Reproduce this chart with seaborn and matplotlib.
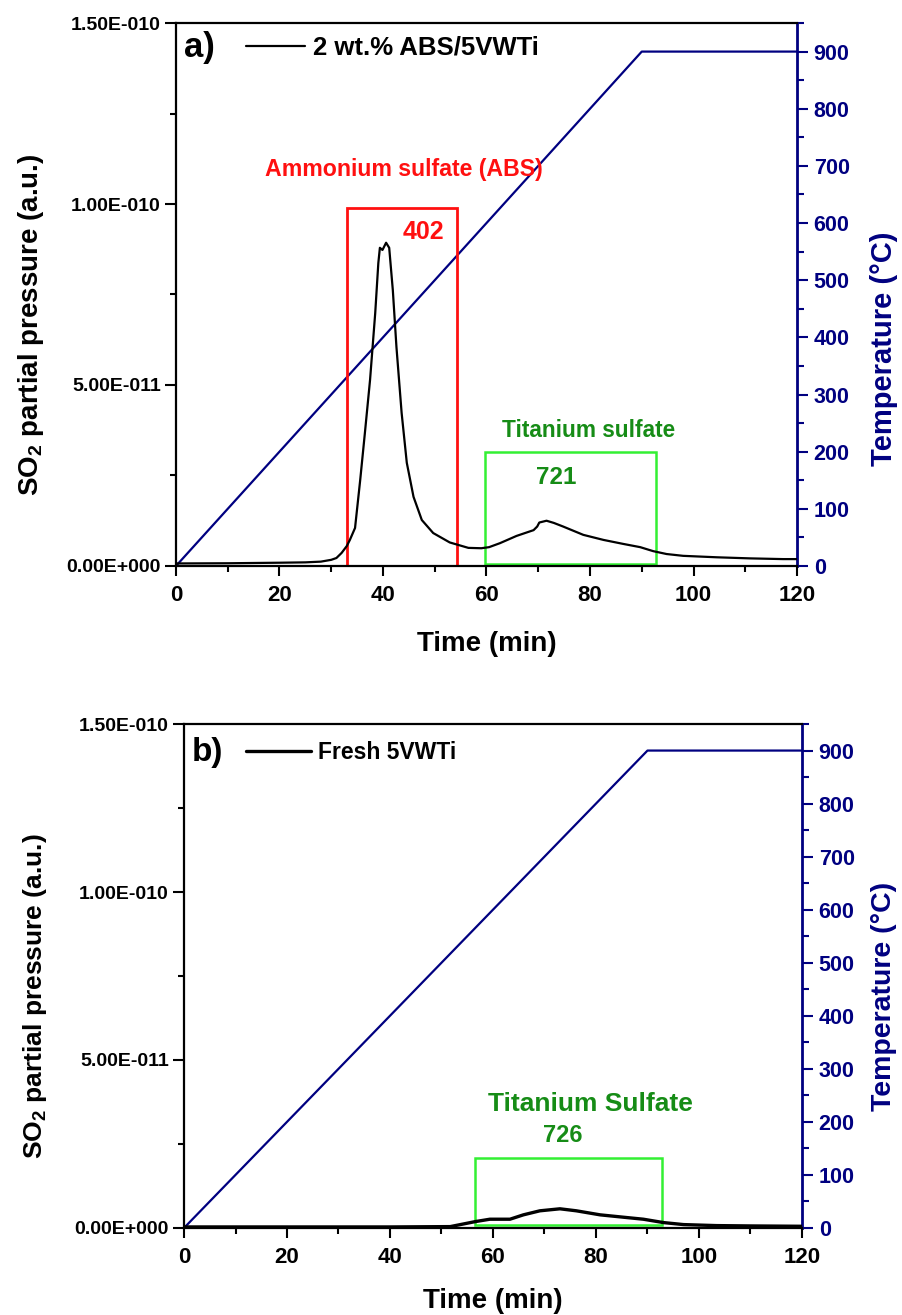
import numpy as np
import matplotlib
matplotlib.use("Agg")
import matplotlib.pyplot as plt
from matplotlib.patches import Rectangle
from matplotlib.ticker import MultipleLocator, FuncFormatter
import seaborn as sns

# ---------------- data ----------------
SCALE = 1e-11  # SO2 values below are given in units of 1e-11

# (a) 2 wt.% ABS/5VWTi
time_a = [0, 10, 20, 25, 28, 30, 31, 32, 33, 33.6, 34.6, 35.6, 36.5, 37.5, 38.5,
          39.1, 39.4, 39.9, 40.6, 41.2, 41.9, 42.6, 43.6, 44.6, 45.9, 47.5, 49.7,
          52.9, 56.5, 59.0, 60.5, 62.6, 65.8, 69.1, 69.8, 70.2, 71.6, 73.0, 74.8,
          78.7, 82.6, 86.4, 89.7, 92.2, 94.8, 98.0, 104.5, 110.9, 117.3, 120]
so2_a = [0.07, 0.075, 0.09, 0.10, 0.12, 0.17, 0.22, 0.36, 0.55, 0.72, 1.05, 2.38,
         3.67, 5.14, 6.99, 8.37, 8.79, 8.73, 8.93, 8.79, 7.62, 6.05, 4.23, 2.85,
         1.91, 1.27, 0.91, 0.65, 0.50, 0.49, 0.52, 0.63, 0.83, 0.99, 1.09, 1.20,
         1.25, 1.19, 1.09, 0.86, 0.72, 0.61, 0.52, 0.41, 0.33, 0.28, 0.24, 0.21,
         0.19, 0.19]

# (b) Fresh 5VWTi
time_b = [0, 20, 40, 51.7, 56.6, 59.4, 63.3, 65.9, 69.1, 73.0, 76.2, 80.8, 85.3,
          89.2, 93.1, 97.0, 103.4, 110, 120]
so2_b = [0.03, 0.03, 0.03, 0.04, 0.19, 0.26, 0.26, 0.39, 0.51, 0.57, 0.51, 0.39,
         0.32, 0.26, 0.16, 0.10, 0.07, 0.06, 0.05]

# temperature programme (°C)
temp_time = [0, 90, 120]
temp_vals = [0, 900, 900]

labels = ["2 wt.% ABS/5VWTi", "Fresh 5VWTi"]
panel_tags = ["a)", "b)"]

# highlighted regions: (t_start, t_end, y_low, y_high) in 1e-11 units
box_abs_a = (33.0, 54.3, 0.0, 9.9)
box_ti_a = (59.7, 92.75, 0.06, 3.15)
box_ti_b = (56.6, 92.8, 0.09, 2.08)

peak_abs_a = "402"
peak_ti_a = "721"
peak_ti_b = "726"

# ---------------- style ----------------
sns.set_theme(style="ticks")
plt.rcParams["font.family"] = ["Liberation Sans", "DejaVu Sans"]
plt.rcParams["font.weight"] = "bold"
plt.rcParams["axes.labelweight"] = "bold"
plt.rcParams["text.color"] = "black"
plt.rcParams["axes.labelcolor"] = "black"
plt.rcParams["xtick.color"] = "black"
plt.rcParams["ytick.color"] = "black"
plt.rcParams["axes.edgecolor"] = "black"
plt.rcParams["mathtext.fontset"] = "custom"
plt.rcParams["mathtext.rm"] = "Liberation Sans:bold"
plt.rcParams["mathtext.bf"] = "Liberation Sans:bold"

NAVY = "#000080"
RED = "#ff1010"
GREEN_TXT = "#168c16"
GREEN_BOX = "#33f033"


def sci_fmt(v, pos):
    if v == 0:
        return "0.00E+000"
    e = int(np.floor(np.log10(abs(v)) + 1e-9))
    m = v / 10 ** e
    return f"{m:.2f}E{'-' if e < 0 else '+'}{abs(e):03d}"


fig = plt.figure(figsize=(9.02, 13.15), dpi=100)
ax_a = fig.add_axes([0.1951, 0.5696, 0.6885, 0.4129])
ax_b = fig.add_axes([0.2040, 0.0662, 0.6851, 0.3832])


def setup(ax, t, y, label, lw, tag, tag_fs, leg_x, leg_y, leg_fs, handlelen,
          ylab_x, ylab_y, ylab_fs, tlab_x, tlab_y, tlab_fs):
    sns.lineplot(x=t, y=np.array(y) * SCALE, ax=ax, color="black", lw=lw,
                 label=label, sort=True)
    tw = ax.twinx()
    sns.lineplot(x=temp_time, y=temp_vals, ax=tw, color=NAVY, lw=1.6, legend=False)

    ax.set_xlim(0, 120)
    ax.set_ylim(0, 1.5e-10)
    tw.set_ylim(0, 950)

    ax.xaxis.set_major_locator(MultipleLocator(20))
    ax.xaxis.set_minor_locator(MultipleLocator(10))
    ax.yaxis.set_major_locator(MultipleLocator(5e-11))
    ax.yaxis.set_minor_locator(MultipleLocator(2.5e-11))
    ax.yaxis.set_major_formatter(FuncFormatter(sci_fmt))
    tw.yaxis.set_major_locator(MultipleLocator(100))
    tw.yaxis.set_minor_locator(MultipleLocator(50))

    ax.tick_params(axis="x", which="major", direction="out", length=7, width=1.5,
                   labelsize=16, pad=7, colors="black")
    ax.tick_params(axis="x", which="minor", direction="out", length=4, width=1.5,
                   colors="black")
    ax.tick_params(axis="y", which="major", direction="out", length=8, width=1.5,
                   labelsize=14, pad=3, colors="black")
    ax.tick_params(axis="y", which="minor", direction="out", length=4.5, width=1.5,
                   colors="black")
    tw.tick_params(axis="y", which="major", direction="out", length=8, width=1.5,
                   labelsize=15.5, pad=4, colors=NAVY)
    tw.tick_params(axis="y", which="minor", direction="out", length=5, width=1.5,
                   colors=NAVY)
    for lab in ax.get_xticklabels() + ax.get_yticklabels() + tw.get_yticklabels():
        lab.set_fontweight("bold")

    for side in ["left", "bottom", "top"]:
        ax.spines[side].set_linewidth(1.6)
        ax.spines[side].set_color("black")
    ax.spines["right"].set_visible(False)
    tw.spines["left"].set_visible(False)
    tw.spines["bottom"].set_visible(False)
    tw.spines["top"].set_visible(False)
    tw.spines["right"].set_color(NAVY)
    tw.spines["right"].set_linewidth(2.0)

    ax.set_xlabel("Time (min)", fontsize=20, fontweight="bold", color="black")
    ax.xaxis.set_label_coords(0.5, -0.12)
    ax.set_ylabel(r"$\mathbf{SO_2}$ partial pressure (a.u.)", fontsize=ylab_fs,
                  fontweight="bold", color="black")
    ax.yaxis.set_label_coords(ylab_x, ylab_y)
    tw.set_ylabel("Temperature (°C)", fontsize=tlab_fs, fontweight="bold",
                  color=NAVY)
    tw.yaxis.set_label_coords(tlab_x, tlab_y)

    ax.text(0.013, leg_y, tag, transform=ax.transAxes, fontsize=tag_fs,
            fontweight="bold", ha="left", va="center", color="black")
    leg = ax.legend(loc="center left", bbox_to_anchor=(leg_x, leg_y),
                    frameon=False, fontsize=leg_fs, handlelength=handlelen,
                    handletextpad=0.33, borderpad=0, borderaxespad=0)
    for txt in leg.get_texts():
        txt.set_fontweight("bold")
        txt.set_color("black")
    ax.set_zorder(tw.get_zorder() + 1)
    ax.patch.set_visible(False)
    return tw


def add_box(ax, box, color, lw):
    t0, t1, y0, y1 = box
    ax.add_patch(Rectangle((t0, y0 * SCALE), t1 - t0, (y1 - y0) * SCALE,
                           fill=False, edgecolor=color, lw=lw, zorder=1))


tw_a = setup(ax_a, time_a, so2_a, labels[0], 1.6, panel_tags[0], 25, 0.112, 0.954,
             18.5, 2.3, -0.21, 0.444, 20, 1.118, 0.40, 21)
tw_b = setup(ax_b, time_b, so2_b, labels[1], 2.4, panel_tags[1], 24, 0.0998, 0.944,
             16.5, 2.84, -0.219, 0.459, 19, 1.111, 0.46, 20.5)

# panel (a) annotations
add_box(ax_a, box_abs_a, RED, 2.0)
add_box(ax_a, box_ti_a, GREEN_BOX, 1.8)
ax_a.text(44.1, 10.94 * SCALE, "Ammonium sulfate (ABS)", color=RED, fontsize=16.7,
          fontweight="bold", ha="center", va="center")
ax_a.text(47.9, 9.23 * SCALE, peak_abs_a, color=RED, fontsize=18,
          fontweight="bold", ha="center", va="center")
ax_a.text(79.8, 3.73 * SCALE, "Titanium sulfate", color=GREEN_TXT, fontsize=16.3,
          fontweight="bold", ha="center", va="center")
ax_a.text(73.4, 2.44 * SCALE, peak_ti_a, color=GREEN_TXT, fontsize=17.5,
          fontweight="bold", ha="center", va="center")

# panel (b) annotations
add_box(ax_b, box_ti_b, GREEN_BOX, 1.8)
ax_b.text(79.0, 3.69 * SCALE, "Titanium Sulfate", color=GREEN_TXT, fontsize=19,
          fontweight="bold", ha="center", va="center")
ax_b.text(73.5, 2.74 * SCALE, peak_ti_b, color=GREEN_TXT, fontsize=17,
          fontweight="bold", ha="center", va="center")

fig.savefig("out.png", dpi=100, facecolor="white")
